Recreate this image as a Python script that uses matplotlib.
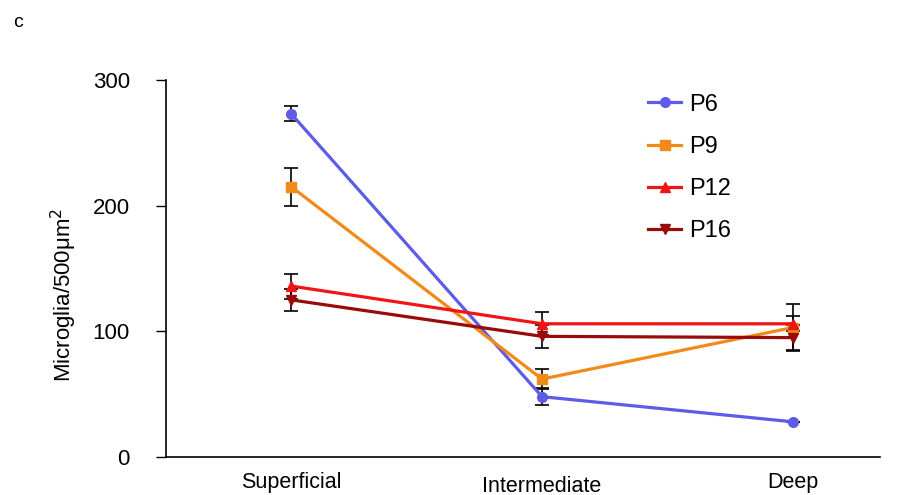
import matplotlib.pyplot as plt
import matplotlib.transforms as mtransforms
from matplotlib.lines import Line2D

# data
layers = ['Superficial', 'Intermediate', 'Deep']
p6 = [273, 48, 28]
p6_err = [6, 7, 0]
p9 = [215, 62, 103]
p9_err = [15, 8, 19]
p12 = [136, 106, 106]
p12_err = [10, 9, 6]
p16 = [125, 96, 95]
p16_err = [9, 9, 10]

series = [
    ('P6', p6, p6_err, '#5c5ce6', 'o'),
    ('P9', p9, p9_err, '#f28a1a', 's'),
    ('P12', p12, p12_err, '#f01414', '^'),
    ('P16', p16, p16_err, '#990a0a', 'v'),
]

plt.rcParams['font.family'] = ['Liberation Sans', 'DejaVu Sans']

fig = plt.figure(figsize=(9.09, 4.95), dpi=100)
ax = fig.add_axes([0.1826, 0.0768, 0.786, 0.7616])

x = range(len(layers))
handles = []
for name, vals, err, color, marker in series:
    ax.errorbar(x, vals, yerr=err, color=color, marker=marker, markersize=7,
                linewidth=2.3, ecolor='black', elinewidth=1.2, capsize=5,
                capthick=1.2)
    handles.append(Line2D([], [], color=color, marker=marker, markersize=7,
                          linewidth=2.3, label=name))

ax.set_xlim(-0.5, 2.35)
ax.set_ylim(0, 300)
ax.set_yticks([0, 100, 200, 300])
ax.set_xticks(list(x))
ax.set_xticklabels(layers, fontsize=15.5)
ax.tick_params(axis='y', labelsize=16, length=7, width=1, pad=19)
ax.tick_params(axis='x', length=0, pad=11)
lbl = ax.get_xticklabels()[1]
lbl.set_transform(lbl.get_transform() + mtransforms.ScaledTranslation(0, -2.5 / 72, fig.dpi_scale_trans))

for s in ['top', 'right']:
    ax.spines[s].set_visible(False)
ax.spines['left'].set_linewidth(1.2)
ax.spines['bottom'].set_linewidth(1.2)

ax.set_ylabel('Microglia/500μm$^2$', fontsize=16)
ax.yaxis.set_label_coords(-0.122, 0.43)

ax.legend(handles=handles, loc='upper left', bbox_to_anchor=(0.645, 1.02),
          frameon=False, fontsize=17, labelspacing=0.85, handlelength=1.4,
          handletextpad=0.35)

fig.text(0.014, 0.945, 'c', fontsize=14)

fig.savefig('out.png', dpi=100)
